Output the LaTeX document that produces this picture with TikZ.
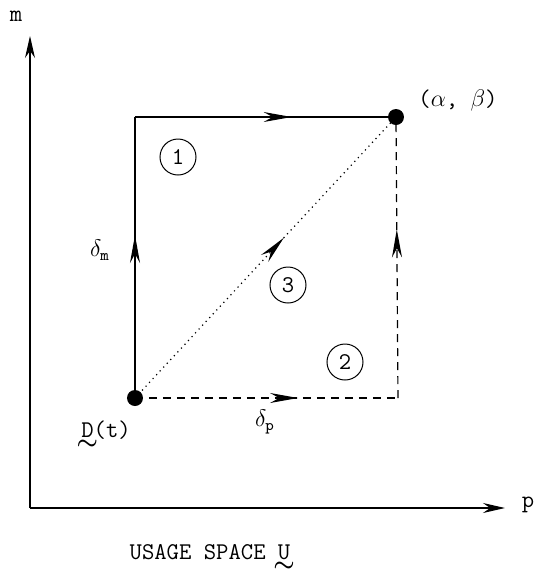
\documentclass[tikz,border=0pt]{standalone}
\usepackage{amsmath}
\usepackage{tikz}
\usetikzlibrary{arrows.meta,positioning,decorations.markings}
\newcommand{\tildebelow}[1]{\ooalign{#1\cr\hidewidth\raisebox{-1.25ex}{$\boldsymbol{\sim}$}\hidewidth\cr}}

\begin{document}
\begin{tikzpicture}[
    x=0.5pt, y=-0.5pt,
    font=\large\ttfamily,
    dot/.style={circle, fill=black, inner sep=0pt, minimum size=8pt},
    tag/.style={circle, draw, line width=0.5pt, inner sep=0pt, minimum size=18pt},
    axis/.style={-{Stealth[length=11pt,width=5pt]}, line width=0.6pt},
    dashline/.style={line width=0.6pt, dash pattern=on 4pt off 3pt},
    dotline/.style={line width=0.6pt, dotted},
    midarrow/.style={postaction={decorate},
      decoration={markings, mark=at position #1 with {\arrow{Stealth[length=14pt,width=5pt]}}}}
  ]
    \useasboundingbox (0,0) rectangle (536,575);

    % axes
    \coordinate (origin) at (30,508);
    \coordinate (mtip) at (30,36);
    \coordinate (ptip) at (505,508);
    \draw[axis] (origin) -- (mtip);
    \draw[axis] (origin) -- (ptip);
    \node (mlabel) at (16,16) {m};
    \node (plabel) at (528,505) {p};

    % points of the usage space
    \node[dot] (start) at (135,398) {};
    \node[dot] (target) at (396,117) {};
    \coordinate (corner1) at (135,117);
    \coordinate (corner2) at (398,398);

    % paths
    \draw[line width=0.6pt, midarrow=0.58] (start.center) -- (corner1);
    \draw[line width=0.6pt, midarrow=0.6] (corner1) -- (target.center);
    \draw[dashline, midarrow=0.62] (start.center) -- (corner2);
    \draw[dashline, midarrow=0.6] (corner2) -- (target.center);
    \draw[dotline, midarrow=0.57] (start.center) -- (target.center);

    % path numbers
    \node[tag] (path1) at (178,157) {1};
    \node[tag] (path2) at (345,362) {2};
    \node[tag] (path3) at (288,285) {3};

    % labels
    \node (deltam) at (100,250) {$\delta_{\texttt{m}}$};
    \node (deltap) at (265,422) {$\delta_{\texttt{p}}$};
    \node[anchor=base] (dlabel) at (106,437) {\tildebelow{D}(t)};
    \node (ablabel) at (458,100) {($\alpha$, $\beta$)};
    \node[anchor=base] (title) at (210,559) {USAGE SPACE \tildebelow{U}};
\end{tikzpicture}
\end{document}
